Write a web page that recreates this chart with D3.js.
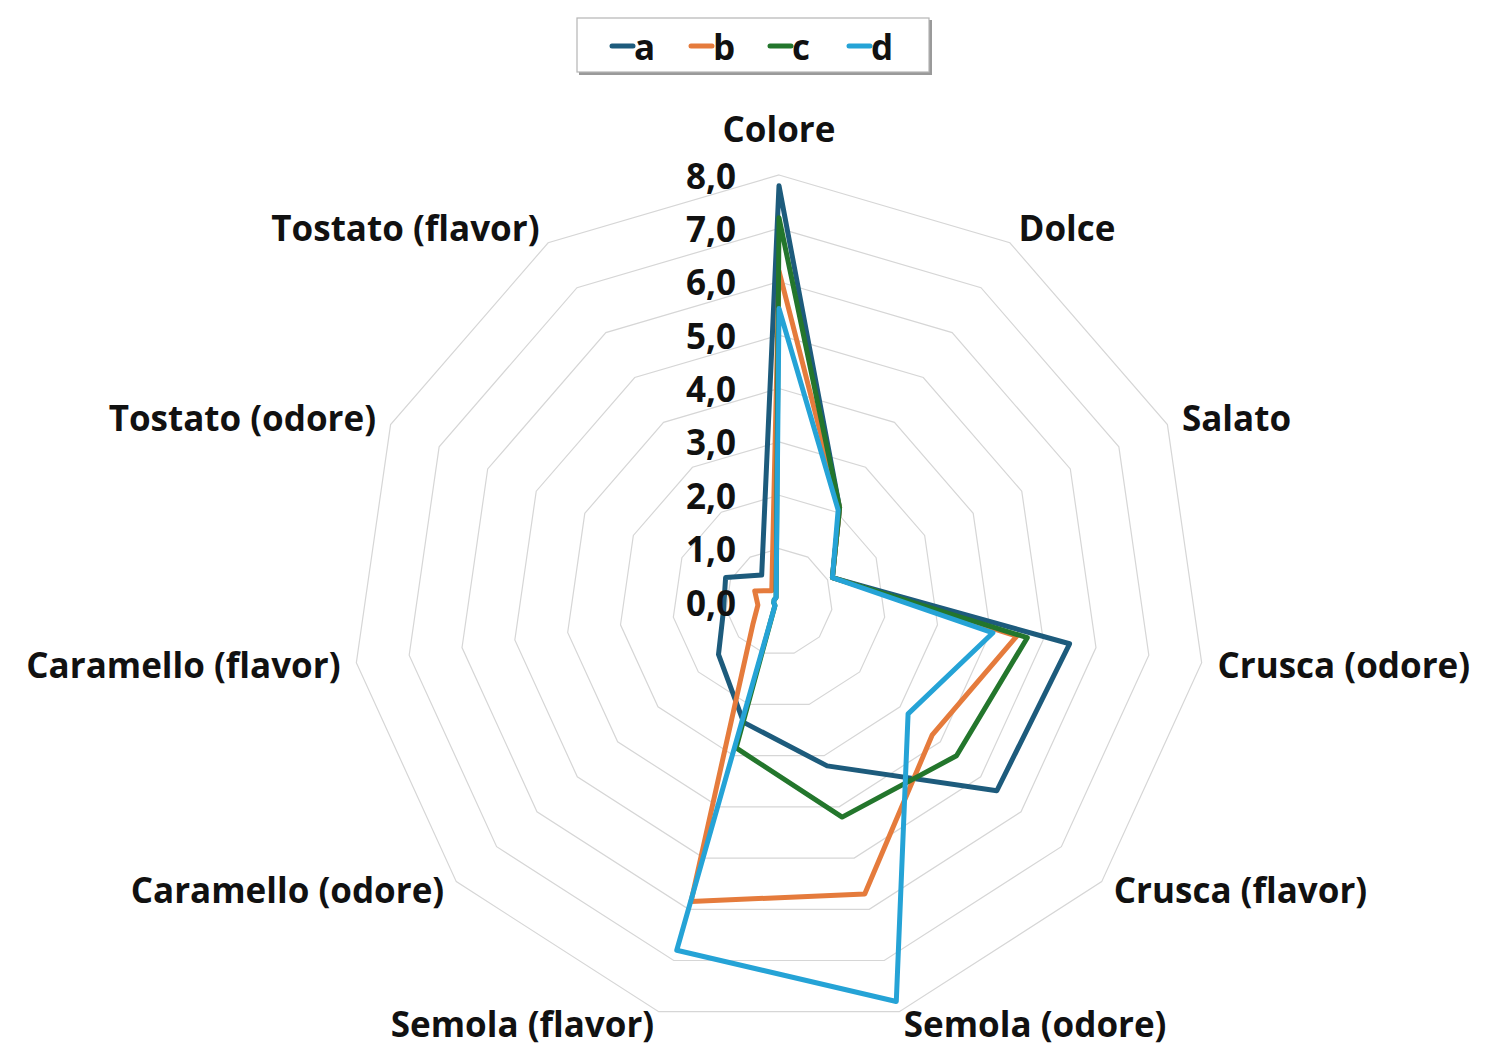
<!DOCTYPE html>
<html>
<head>
<meta charset="utf-8">
<script src="https://cdn.jsdelivr.net/npm/d3@7"></script>
<style>
  html, body { margin: 0; padding: 0; background: #fff; }
  svg text { font-family: "Open Sans", Lato, sans-serif; font-weight: 700; fill: #111; }
</style>
</head>
<body>
<svg id="chart" width="1490" height="1048"></svg>
<script>
var categories = ["Colore", "Dolce", "Salato", "Crusca (odore)", "Crusca (flavor)", "Semola (odore)",
                  "Semola (flavor)", "Caramello (odore)", "Caramello (flavor)", "Tostato (odore)", "Tostato (flavor)"];
var seriesNames = ["a", "b", "c", "d"];
var valuesA = [7.8, 2.1, 1.1, 5.5, 5.4, 3.2, 2.35, 1.5, 1.05, 1.1, 0.6];
var valuesB = [6.2, 2.1, 1.1, 4.5, 3.8, 5.7, 5.85, 0.65, 0.4, 0.5, 0.25];
var valuesC = [7.2, 2.1, 1.1, 4.7, 4.4, 4.2, 2.85, 0.1, 0.1, 0.1, 0.1];
var valuesD = [5.5, 2.05, 1.1, 4.05, 3.2, 7.8, 6.8, 0.1, 0.1, 0.1, 0.1];
var tickValues = [0, 1, 2, 3, 4, 5, 6, 7, 8];
var tickLabels = ["0,0", "1,0", "2,0", "3,0", "4,0", "5,0", "6,0", "7,0", "8,0"];
var colors = ["#1d5b7c", "#e57b3c", "#23762c", "#25a3d6"];

var svg = d3.select("#chart");
var cx = 779, cy = 602;
var r = d3.scaleLinear().domain([0, 8]).range([0, 427]);
var n = categories.length;
var angle = function(i) { return i * 2 * Math.PI / n; };

var g = svg.append("g").attr("transform", "translate(" + cx + "," + cy + ")");

// grid rings
var ring = d3.lineRadial().curve(d3.curveLinearClosed);
g.selectAll(".ring")
  .data(tickValues.slice(1))
  .enter().append("path")
    .attr("class", "ring")
    .attr("d", function(t) { return ring(categories.map(function(c, i) { return [angle(i), r(t)]; })); })
    .attr("fill", "none")
    .attr("stroke", "#d6d6d6")
    .attr("stroke-width", 1.2);

// series
var series = [valuesA, valuesB, valuesC, valuesD];
var line = d3.lineRadial()
    .angle(function(d, i) { return angle(i); })
    .radius(function(d) { return r(d); })
    .curve(d3.curveLinearClosed);

g.selectAll(".series")
  .data(series)
  .enter().append("path")
    .attr("class", "series")
    .attr("d", line)
    .attr("fill", "none")
    .attr("stroke", function(d, i) { return colors[i]; })
    .attr("stroke-width", 5)
    .attr("stroke-linejoin", "round");

// tick labels
g.selectAll(".tick")
  .data(tickValues)
  .enter().append("text")
    .attr("class", "tick")
    .attr("x", -43)
    .attr("y", function(t) { return -r(t); })
    .attr("text-anchor", "end")
    .attr("dominant-baseline", "central")
    .style("font-size", "35px")
    .text(function(t, i) { return tickLabels[i]; });

// category labels
g.selectAll(".cat")
  .data(categories)
  .enter().append("text")
    .attr("class", "cat")
    .attr("x", function(c, i) { return Math.sin(angle(i)) * (r(8) + 16); })
    .attr("y", function(c, i) {
      var cs = Math.cos(angle(i));
      if (i === 0) return -r(8) - 47;
      return -cs * r(8) - cs * (cs > 0 ? 18 : 12);
    })
    .attr("text-anchor", function(c, i) {
      var s = Math.sin(angle(i));
      return Math.abs(s) < 0.01 ? "middle" : (s > 0 ? "start" : "end");
    })
    .attr("dominant-baseline", "central")
    .style("font-size", "35px")
    .text(function(c) { return c; });

// legend
var legend = svg.append("g").attr("transform", "translate(577,18)");
legend.append("rect")
    .attr("x", 2).attr("y", 2).attr("width", 353).attr("height", 55)
    .attr("fill", "#9a9a9a");
legend.append("rect")
    .attr("width", 352).attr("height", 54)
    .attr("fill", "#fff")
    .attr("stroke", "#b5b5b5")
    .attr("stroke-width", 1.2);
var items = legend.selectAll(".item")
  .data(seriesNames)
  .enter().append("g")
    .attr("class", "item")
    .attr("transform", function(d, i) { return "translate(" + (35 + i * 79) + ",28)"; });
items.append("line")
    .attr("x1", 0).attr("x2", 21)
    .attr("stroke", function(d, i) { return colors[i]; })
    .attr("stroke-width", 5)
    .attr("stroke-linecap", "round");
items.append("text")
    .attr("x", 22)
    .attr("dominant-baseline", "central")
    .style("font-size", "35px")
    .text(function(d) { return d; });
</script>
</body>
</html>
